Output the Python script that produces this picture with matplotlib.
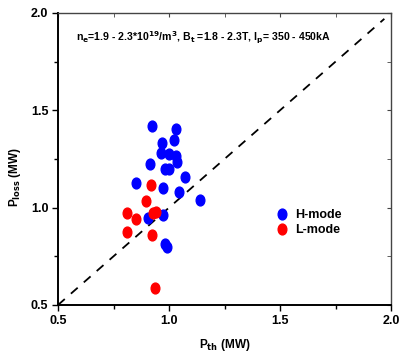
import matplotlib
matplotlib.use('Agg')
import matplotlib.pyplot as plt
from matplotlib.path import Path
from matplotlib.transforms import Affine2D

# H-mode points (P_th, P_loss) in MW
h_pth = [0.922, 1.032, 1.024, 0.970, 0.966, 1.000, 1.032, 1.035, 0.916, 0.982,
         1.001, 1.072, 0.853, 0.974, 1.044, 1.140, 0.907, 0.973, 0.982, 0.990]
h_ploss = [1.420, 1.404, 1.348, 1.331, 1.279, 1.276, 1.267, 1.233, 1.223, 1.197,
           1.197, 1.159, 1.127, 1.101, 1.081, 1.038, 0.949, 0.961, 0.814, 0.800]

# L-mode points
l_pth = [0.919, 0.896, 0.809, 0.853, 0.929, 0.940, 0.809, 0.923, 0.938]
l_ploss = [1.115, 1.034, 0.974, 0.942, 0.971, 0.978, 0.877, 0.858, 0.588]

# dashed guide P_loss = P_th
guide = [0.5, 1.97]

ticks = [0.5, 1.0, 1.5, 2.0]
minor = [0.75, 1.25, 1.75]

fam = ['Liberation Sans Narrow', 'Liberation Sans', 'DejaVu Sans']
plt.rcParams['font.family'] = fam
plt.rcParams['font.weight'] = 'bold'
plt.rcParams['axes.labelweight'] = 'bold'
plt.rcParams['mathtext.fontset'] = 'custom'
plt.rcParams['mathtext.bf'] = 'Liberation Sans Narrow:bold'
plt.rcParams['mathtext.rm'] = 'Liberation Sans Narrow:bold'
plt.rcParams['mathtext.default'] = 'bf'

# tall ellipse marker
oval = Path.unit_circle().transformed(Affine2D().scale(0.8, 1.0))

fig = plt.figure(figsize=(4.0, 3.56), dpi=100)
ax = fig.add_axes([0.145, 0.1433, 0.8325, 0.8202])

ax.plot(guide, guide, color='black', lw=1.3, dashes=(5, 4.5))
ax.plot(h_pth, h_ploss, ls='none', marker=oval, ms=7.8, color='#0000ff', mec='#0000ff', label='H-mode')
ax.plot(l_pth, l_ploss, ls='none', marker=oval, ms=7.8, color='#ff0000', mec='#ff0000', label='L-mode')

ax.set_xlim(0.5, 2.0)
ax.set_ylim(0.5, 2.0)
ax.set_xticks(ticks)
ax.set_yticks(ticks)
ax.set_xticks(minor, minor=True)
ax.set_yticks(minor, minor=True)
ax.set_xticklabels(['0.5', '1.0', '1.5', '2.0'])
ax.set_yticklabels(['0.5', '1.0', '1.5', '2.0'])
ax.tick_params(which='major', direction='out', length=4, width=1, labelsize=9, pad=3)
ax.tick_params(which='minor', direction='out', length=3, width=1)

for s in ['left', 'bottom']:
    ax.spines[s].set_linewidth(1.4)
for s in ['top', 'right']:
    ax.spines[s].set_linewidth(1.0)
    ax.spines[s].set_color('#444444')

top = ax.secondary_xaxis('top')
top.set_xticks(ticks)
top.set_xticks(minor, minor=True)
top.tick_params(which='both', direction='in', length=3, labeltop=False, colors='#444444')
top.spines['top'].set_visible(False)
right = ax.secondary_yaxis('right')
right.set_yticks(ticks)
right.set_yticks(minor, minor=True)
right.tick_params(which='both', direction='in', length=3, labelright=False, colors='#444444')
right.spines['right'].set_visible(False)

ax.set_xlabel('P$_{th}$ (MW)', fontsize=8.5)
ax.set_ylabel('P$_{loss}$ (MW)', fontsize=8.5)
ax.xaxis.set_label_coords(0.5, -0.11)
ax.yaxis.set_label_coords(-0.105, 0.44)

ax.text(0.055, 0.915, 'n$_e$=1.9 - 2.3*10$^{19}$/m$^3$, B$_t$ =1.8 - 2.3T, I$_p$= 350 - 450kA',
        transform=ax.transAxes, fontsize=7.6, va='center')

ax.legend(loc='upper left', bbox_to_anchor=(0.64, 0.345), frameon=False, fontsize=9,
          handletextpad=0.5, labelspacing=0.25, handlelength=1.0, borderaxespad=0)

fig.savefig('out.png', dpi=100)
